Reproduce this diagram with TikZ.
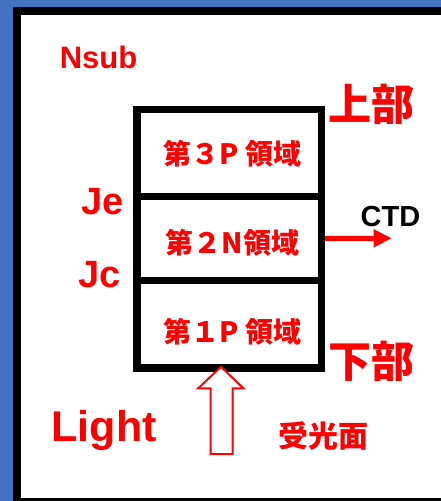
\documentclass[tikz,border=0pt]{standalone}
\usepackage{fontspec}
\setmainfont{Liberation Sans}
\newfontfamily\jp{Noto Sans CJK JP}
\usetikzlibrary{arrows.meta}
\definecolor{bblue}{RGB}{68,114,196}
\definecolor{rred}{RGB}{255,0,0}
\tikzset{
  region/.style={draw=black, line width=7.5pt, minimum width=184.5pt, inner sep=0pt, outer sep=0pt},
  lat/.style={text=rred, inner sep=0pt, font=\bfseries\fontsize{#1}{#1}\selectfont},
  cjk/.style={text=rred, inner sep=0pt, font=\jp\bfseries\fontsize{#1}{#1}\selectfont},
  regtext/.style={cjk=28},
}
\begin{document}
\begin{tikzpicture}[x=1pt,y=-1pt]
\useasboundingbox (0,0) rectangle (441,501);
\clip (0,0) rectangle (441,501);
\fill[bblue] (0,0) rectangle (441,501);
\fill[white] (13,7) rectangle (460,520);
\draw[line width=8pt] (17,11) rectangle (470,501.5);

% CTD arrow (under the boxes)
\node (r2) [region, minimum height=84.2pt] at (229.25,238.4) {};
\coordinate (ctdend) at (391.7,238.3);
\draw[rred, line width=5pt, -{Triangle[length=18pt,width=17pt]}] (r2.east) -- (ctdend);

\node (r3) [region, minimum height=86.8pt] at (229.25,152.9) {};
\node (r1) [region, minimum height=87.5pt] at (229.25,324.25) {};
\node (r2b) [region, minimum height=84.2pt] at (229.25,238.4) {};

\node (t3) [regtext] at (232.5,153.3) {第３P 領域};
\node (t2) [regtext] at (232.5,243) {第２N領域};
\node (t1) [regtext] at (232.5,331.7) {第１P 領域};

\node (ctd) [lat=29, text=black] at (390.5,216.8) {CTD};
\node (nsub) [lat=31] at (98.5,57.9) {Nsub};
\node (je) [lat=38] at (103,201.7) {Je};
\node (jc) [lat=38] at (99.5,274.5) {Jc};
\node (light) [lat=43] at (104.2,430.8) {Light};

\node (top) [cjk=43] at (371.7,104) {上部};
\node (bot) [cjk=43] at (371.7,361) {下部};
\node (recv) [cjk=30] at (323.3,436.5) {受光面};

% hollow light arrow
\draw[rred, line width=2pt, line join=miter, fill=white]
  (221,366.7) -- (243.3,388.3) -- (232.7,388.3) -- (232.7,454)
  -- (210.7,454) -- (210.7,388.3) -- (198.3,388.3) -- cycle;
\end{tikzpicture}
\end{document}
